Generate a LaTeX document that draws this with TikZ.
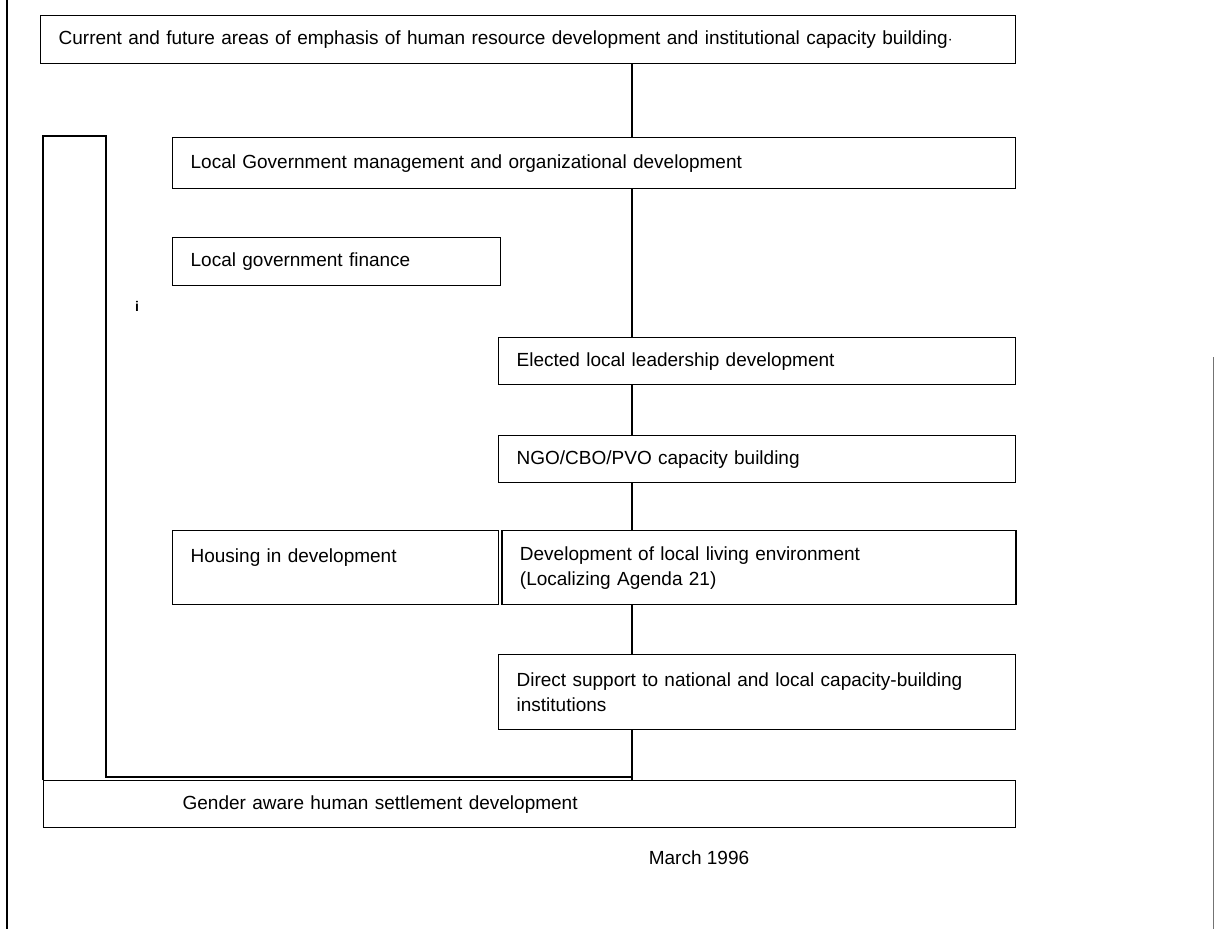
\documentclass[tikz,border=0pt]{standalone}
\usepackage{fontspec}
\setmainfont{Liberation Sans}
\usepackage{tikz}
\usetikzlibrary{positioning}
\usetikzlibrary{backgrounds}
\newcommand{\areafont}{\fontsize{19}{25}\selectfont}
\tikzset{areabox/.style={
        draw, 
        rectangle, 
        fill=white,
        anchor=north west,
        align=left,
        inner xsep=18pt,
        line width=1.3pt,
        font=\areafont } }
\tikzset{linkline/.style={ line width=1.2pt } }
\tikzset{plain/.style={ font=\areafont } }

\begin{document}
\begin{tikzpicture}[x=1pt,y=-1pt]
\useasboundingbox (0,0) rectangle (1216,929);

\node[areabox, minimum width=975pt, minimum height=48pt, text width=939pt] (hrd) at (40,15)
{Current and future areas of emphasis of human resource development and institutional capacity building$\cdot$};

\node[areabox, minimum width=843pt, minimum height=51pt, text width=807pt] (lgm) at (172,137)
{Local Government management and organizational development};
\node[areabox, minimum width=328pt, minimum height=48pt, text width=292pt] (lgf) at (172,237)
{Local government finance};

\node[areabox, minimum width=517pt, minimum height=47pt, text width=481pt] (eld) at (498,337)
{Elected local leadership development};
\node[areabox, minimum width=517pt, minimum height=47pt, text width=481pt] (ngo) at (498,435)
{NGO/CBO/PVO capacity building};

\node[areabox, minimum width=326pt, minimum height=74pt, text width=290pt] (hsg) at (172,530)
{Housing in development\\\phantom{X}};
\node[areabox, minimum width=514pt, minimum height=74pt, text width=478pt] (dle) [right = 2pt of hsg.north east, anchor=north west]
{Development of local living environment\\(Localizing Agenda 21)};

\node[areabox, minimum width=517pt, minimum height=75pt, text width=481pt] (dsi) at (498,654)
{Direct support to national and local capacity-building\\institutions};

\node[areabox, minimum width=972pt, minimum height=47pt, text width=936pt] (gen) at (43,780)
{\hspace*{121pt}Gender aware human settlement development};

%%marks and date
\node[plain, font=\fontsize{14}{14}\selectfont\bfseries] (mark) at (137,306) {i};
\node[plain] (date) at (699,858) {March 1996};

\coordinate (spine) at (632,0);
\coordinate (frametop) at (106,136);
\coordinate (framebot) at (632,777);

\begin{pgfonlayer}{background}
%SPINE
\draw[linkline] (hrd.south -| spine) -- (gen.north -| spine);
%FRAME
\draw[linkline] (gen.north west) |- (frametop) |- (framebot);
%PAGE EDGES
\draw[line width=1.4pt] (7,0) -- (7,929);
\draw[line width=1pt, black!55] (1213,357) -- (1213,929);
\end{pgfonlayer}

\end{tikzpicture}
\end{document}
